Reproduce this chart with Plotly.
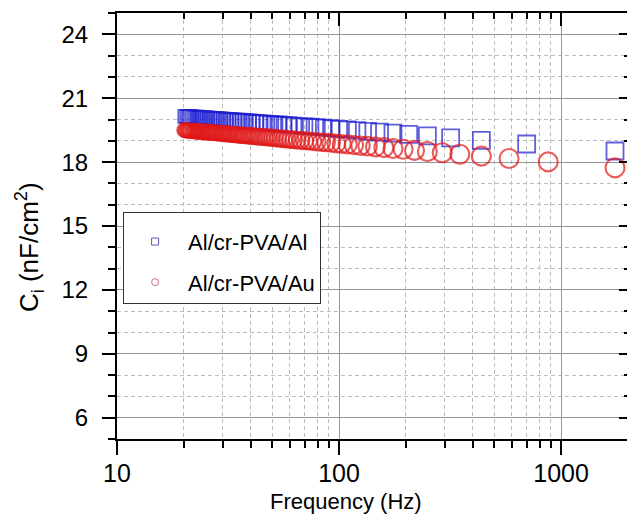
import numpy as np
import plotly.graph_objects as go

# ---- data ----
freq_al = [1750, 700, 437.5, 318.2, 250, 205.9, 175, 152.2, 134.6, 120.7, 109.4, 100,
           92.1, 85.4, 79.5, 74.5, 70, 66.0, 62.5, 59.3, 56.5, 53.8, 51.5, 49.3, 47.3,
           45.5, 43.75, 42.2, 40.7, 39.3, 38.0, 36.8, 35.7, 34.7, 33.65, 32.7, 31.8,
           31.0, 30.2, 29.4, 28.7, 28.0, 27.3, 26.7, 26.1, 25.5, 25.0, 24.5, 24.0,
           23.5, 23.0, 22.6, 22.15, 21.7, 21.3, 21.0, 20.6, 20.2]
ci_al = [18.52, 18.85, 19.02, 19.14, 19.23, 19.30, 19.36, 19.41, 19.45, 19.49, 19.53,
         19.56, 19.59, 19.62, 19.65, 19.67, 19.69, 19.71, 19.73, 19.75, 19.77, 19.79,
         19.80, 19.82, 19.83, 19.85, 19.86, 19.88, 19.89, 19.90, 19.92, 19.93, 19.94,
         19.95, 19.96, 19.97, 19.98, 19.99, 20.00, 20.01, 20.02, 20.03, 20.04, 20.04,
         20.05, 20.06, 20.07, 20.08, 20.08, 20.09, 20.10, 20.10, 20.11, 20.12, 20.13,
         20.13, 20.14, 20.15]

freq_au = [1750, 875, 583.3, 437.5, 350, 291.7, 250, 218.75, 194.4, 175, 159.1, 145.8,
           134.6, 125, 116.7, 109.4, 102.9, 97.2, 92.1, 87.5, 83.3, 79.5, 76.1, 72.9,
           70, 67.3, 64.8, 62.5, 60.3, 58.3, 56.5, 54.7, 53.0, 51.5, 50, 48.6, 47.3,
           46.1, 44.9, 43.75, 42.7, 41.7, 40.7, 39.8, 38.9, 38.0, 37.2, 36.5, 35.7, 35,
           34.3, 33.7, 33.0, 32.4, 31.8, 31.25, 30.7, 30.2, 29.7, 29.2, 28.7, 28.2, 27.8,
           27.3, 26.9, 26.5, 26.1, 25.7, 25.4, 25, 24.6, 24.3, 24.0, 23.6, 23.3, 23.0,
           22.7, 22.4, 22.2, 21.9, 21.6, 21.3, 21.1, 20.8, 20.6, 20.3, 20.1]
ci_au = [17.73, 18.01, 18.17, 18.28, 18.37, 18.44, 18.50, 18.55, 18.60, 18.64, 18.68,
         18.71, 18.75, 18.77, 18.80, 18.83, 18.85, 18.87, 18.90, 18.92, 18.93, 18.95,
         18.97, 18.99, 19.00, 19.02, 19.03, 19.05, 19.06, 19.08, 19.09, 19.10, 19.11,
         19.13, 19.14, 19.15, 19.16, 19.17, 19.18, 19.19, 19.20, 19.21, 19.22, 19.23,
         19.24, 19.25, 19.25, 19.26, 19.27, 19.28, 19.29, 19.29, 19.30, 19.31, 19.32,
         19.32, 19.33, 19.34, 19.34, 19.35, 19.36, 19.36, 19.37, 19.38, 19.38, 19.39,
         19.39, 19.40, 19.41, 19.41, 19.42, 19.42, 19.43, 19.43, 19.44, 19.44, 19.45,
         19.45, 19.46, 19.46, 19.47, 19.47, 19.48, 19.48, 19.49, 19.49, 19.50]

name_al = "Al/cr-PVA/Al"
name_au = "Al/cr-PVA/Au"
x_title = "Frequency (Hz)"
y_title = "C<sub>i</sub> (nF/cm<sup>2</sup>)"
y_ticks = [6, 9, 12, 15, 18, 21, 24]

BLUE = "#1c1cd0"
RED = "#e01818"
FONT = "Arial, Liberation Sans, sans-serif"

size_al = np.interp(np.log10(freq_al), [1.3, 2.2], [13, 17])
size_au = np.interp(np.log10(freq_au), [1.3, 2.2], [14, 19])

fig = go.Figure()
fig.add_trace(go.Scatter(x=freq_al, y=ci_al, mode="markers", showlegend=False,
                         marker=dict(symbol="square-open", size=size_al, color=BLUE,
                                     line=dict(width=1.8, color=BLUE))))
fig.add_trace(go.Scatter(x=freq_au, y=ci_au, mode="markers", showlegend=False,
                         marker=dict(symbol="circle-open", size=size_au, color=RED,
                                     line=dict(width=2.1, color=RED))))
# legend entries (small symbols as in the reference)
fig.add_trace(go.Scatter(x=[None], y=[None], mode="markers", name=name_al,
                         legendgroup="a",
                         marker=dict(symbol="square-open", size=7, color="#5a5ab4",
                                     line=dict(width=1, color="#5a5ab4"))))
fig.add_trace(go.Scatter(x=[None], y=[None], mode="markers", name=name_au,
                         legendgroup="b",
                         marker=dict(symbol="circle-open", size=7, color="#c86a7a",
                                     line=dict(width=1, color="#c86a7a"))))
# invisible trace to anchor mirrored axes
fig.add_trace(go.Scatter(x=[freq_al[0]], y=[ci_al[0]], xaxis="x2", yaxis="y2",
                         mode="markers", marker=dict(opacity=0), showlegend=False,
                         hoverinfo="skip"))

XR = [1, 3.297]
YR = [5, 25]
grid_major = "#969696"
grid_minor = "#bdbdbd"

fig.update_layout(
    width=627, height=521,
    margin=dict(l=117, r=0, t=13, b=82, autoexpand=False),
    paper_bgcolor="white", plot_bgcolor="white",
    font=dict(family=FONT, color="black"),
    xaxis=dict(type="log", range=XR, dtick=1, showline=True, linecolor="black",
               linewidth=2.2, ticks="outside", ticklen=14, tickwidth=2,
               tickcolor="black", tickfont=dict(size=25), ticklabelstandoff=-3,
               showgrid=True, gridcolor=grid_major, gridwidth=1, zeroline=False,
               automargin=False,
               minor=dict(dtick="D1", ticks="outside", ticklen=7, tickwidth=2,
                          tickcolor="black", showgrid=True, gridcolor=grid_minor,
                          griddash="4px,3px", gridwidth=1)),
    yaxis=dict(range=YR, tickvals=y_ticks, showline=True, linecolor="black",
               linewidth=2.2, ticks="outside", ticklen=13, tickwidth=2,
               tickcolor="black", tickfont=dict(size=24), ticklabelstandoff=9,
               showgrid=True, gridcolor=grid_major, gridwidth=1, zeroline=False,
               automargin=False,
               minor=dict(dtick=1, tick0=0, ticks="outside", ticklen=7, tickwidth=2,
                          tickcolor="black", showgrid=True, gridcolor=grid_minor,
                          griddash="4px,3px", gridwidth=1)),
    xaxis2=dict(type="log", range=XR, dtick=1, overlaying="x", side="top",
                anchor="y2", showline=True, linecolor="black", linewidth=2.2,
                ticks="inside", ticklen=13, tickwidth=2, tickcolor="black",
                showticklabels=False, showgrid=False, zeroline=False,
                automargin=False,
                minor=dict(dtick="D1", ticks="inside", ticklen=6, tickwidth=2,
                           tickcolor="black", showgrid=False)),
    yaxis2=dict(range=YR, tickvals=y_ticks, overlaying="y", side="right",
                anchor="x2", showline=False, ticks="inside", ticklen=8, tickwidth=2,
                tickcolor="black", showticklabels=False, showgrid=False,
                zeroline=False, automargin=False,
                minor=dict(dtick=1, tick0=0, ticks="inside", ticklen=3, tickwidth=2,
                           tickcolor="black", showgrid=False)),
    legend=dict(x=0.012, y=0.533, xanchor="left", yanchor="top",
                bgcolor="white", bordercolor="#333333", borderwidth=1,
                font=dict(size=22, family=FONT, color="black"),
                title=dict(text=" ", font=dict(size=6)),
                traceorder="grouped", tracegroupgap=9, indentation=-2,
                itemwidth=56),
    annotations=[
        dict(text=x_title, xref="paper", yref="paper", x=0.449, y=-0.146,
             xanchor="center", yanchor="middle", showarrow=False,
             font=dict(size=22, family=FONT, color="black")),
        dict(text=y_title, xref="paper", yref="paper", x=-0.171, y=0.45,
             xanchor="center", yanchor="middle", showarrow=False, textangle=-90,
             font=dict(size=26, family=FONT, color="black")),
    ],
)

fig.write_html("out.html")
